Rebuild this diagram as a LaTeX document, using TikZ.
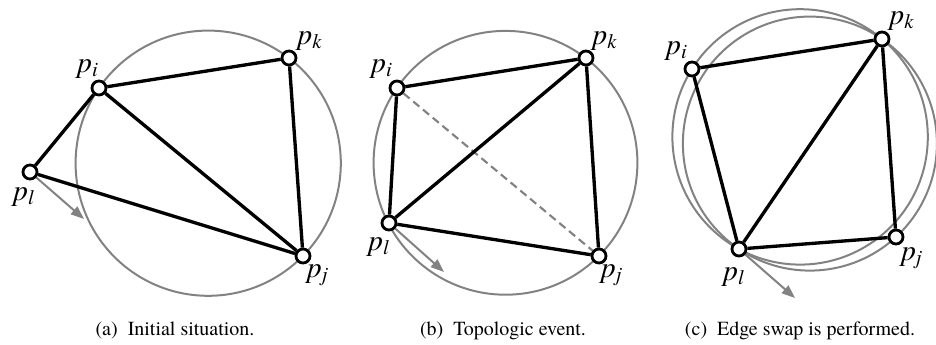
\documentclass[tikz,border=0pt]{standalone}
\usepackage{fontspec}
\setmainfont{texgyretermes}[Extension=.otf, UprightFont=*-regular, ItalicFont=*-italic, BoldFont=*-bold, BoldItalicFont=*-bolditalic]
\usetikzlibrary{arrows.meta,backgrounds}
\definecolor{cgray}{RGB}{130,130,130}
\newcommand\plab[1]{\textit{p}\textsubscript{\textit{#1}}}
\begin{document}
\begin{tikzpicture}[x=0.75pt,y=-0.75pt,
  vtx/.style={circle,draw=black,fill=white,line width=2.1pt,minimum size=10.5pt,inner sep=0pt},
  tedge/.style={line width=2.5pt,draw=black},
  circ/.style={line width=1.5pt,draw=cgray},
  move/.style={line width=1.5pt,draw=cgray,-{Triangle[length=10pt,width=7.5pt,fill=cgray]}},
  swp/.style={line width=1.6pt,draw=cgray,dash pattern=on 6pt off 3.5pt},
  lbl/.style={inner sep=0pt,font=\fontsize{22}{26}\selectfont},
  captxt/.style={anchor=base,inner sep=0pt,font=\fontsize{15}{18}\selectfont}]
\useasboundingbox (0,0) rectangle (936,345);

% ---------- panel (a)
\node[vtx] (ai) at (99,88) {};
\node[vtx] (ak) at (289,58) {};
\node[vtx] (al) at (30,172) {};
\node[vtx] (aj) at (303,256) {};
\coordinate (aarr) at (84,219);
\node[lbl] (ali) at (88,69) {\plab{i}};
\node[lbl] (alk) at (310,41) {\plab{k}};
\node[lbl] (all) at (24,197) {\plab{l}};
\node[lbl] (alj) at (318,275) {\plab{j}};
\node[captxt] (capa) at (175,336) {(a)\enspace Initial situation.};

% ---------- panel (b)
\node[vtx] (bi) at (397,88) {};
\node[vtx] (bk) at (586,58) {};
\node[vtx] (bl) at (389,223) {};
\node[vtx] (bj) at (599,256) {};
\coordinate (barr) at (444,272);
\node[lbl] (bli) at (382,69) {\plab{i}};
\node[lbl] (blk) at (605,41) {\plab{k}};
\node[lbl] (bll) at (379,247) {\plab{l}};
\node[lbl] (blj) at (612,275) {\plab{j}};
\node[captxt] (capb) at (503,336) {(b)\enspace Topologic event.};

% ---------- panel (c)
\node[vtx] (ci) at (692,69) {};
\node[vtx] (ck) at (882,39) {};
\node[vtx] (cl) at (739,249) {};
\node[vtx] (cj) at (896,237) {};
\coordinate (carr) at (795,298);
\node[lbl] (cli) at (677,51) {\plab{i}};
\node[lbl] (clk) at (902,21) {\plab{k}};
\node[lbl] (cll) at (734,277) {\plab{l}};
\node[lbl] (clj) at (912,258) {\plab{j}};
\node[captxt] (capc) at (800,336) {(c)\enspace Edge swap is performed.};

\begin{pgfonlayer}{background}
  % circles
  \draw[circ] (208.2,163.2) circle (132.6);
  \draw[circ] (505.5,162.8) circle (131.9);
  \draw[circ] (800.1,136.9) circle (127.7);
  \draw[circ] (809.9,143.6) circle (127.0);
  % edges (a)
  \draw[tedge] (ai) -- (ak);
  \draw[tedge] (ak) -- (aj);
  \draw[tedge] (ai) -- (aj);
  \draw[tedge] (ai) -- (al);
  \draw[tedge] (al) -- (aj);
  \draw[move] (al) -- (aarr);
  % edges (b)
  \draw[swp] (bi) -- (bj);
  \draw[tedge] (bi) -- (bk);
  \draw[tedge] (bk) -- (bj);
  \draw[tedge] (bj) -- (bl);
  \draw[tedge] (bl) -- (bi);
  \draw[tedge] (bl) -- (bk);
  \draw[move] (bl) -- (barr);
  % edges (c)
  \draw[tedge] (ci) -- (ck);
  \draw[tedge] (ck) -- (cj);
  \draw[tedge] (cj) -- (cl);
  \draw[tedge] (cl) -- (ci);
  \draw[tedge] (cl) -- (ck);
  \draw[move] (cl) -- (carr);
\end{pgfonlayer}
\end{tikzpicture}
\end{document}
